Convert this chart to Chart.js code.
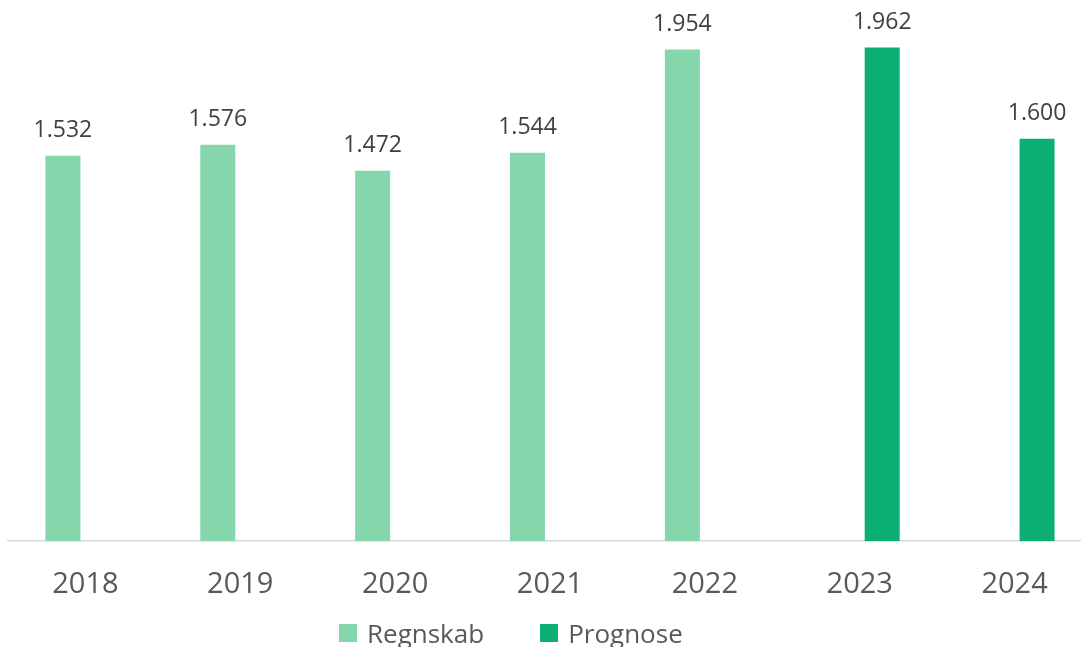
<!DOCTYPE html>
<html>
<head>
<meta charset="utf-8">
<script src="https://cdn.jsdelivr.net/npm/chart.js@4"></script>
<style>
  html, body { margin: 0; padding: 0; background: #fff; overflow: hidden; }
  .wrap { position: relative; width: 1081px; height: 647px; overflow: hidden; }
  #legend {
    position: absolute; left: 339px; top: 615px;
    display: flex; align-items: center;
    font-family: "Open Sans", sans-serif; font-size: 26px; color: #595959;
  }
  #legend .item { display: flex; align-items: center; margin-right: 56px; }
  #legend .box { width: 18px; height: 18px; margin-right: 10px; }
</style>
</head>
<body>
<div class="wrap">
  <canvas id="barChart" width="1092" height="647"></canvas>
  <div id="legend"></div>
</div>
<script>
// år
const years = ['2018', '2019', '2020', '2021', '2022', '2023', '2024'];
// regnskab og prognose (tom plads hvor serien ikke har værdi)
const regnskab = [1532, 1576, 1472, 1544, 1954, null, null];
const prognose = [null, null, null, null, null, 1962, 1600];
const seriesNames = ['Regnskab', 'Prognose'];
const seriesColors = ['#86d6ab', '#0baf74'];

// dansk tusindtalsseparator
function fmt(v) {
    return String(v).replace(/\B(?=(\d{3})+(?!\d))/g, '.');
}

// værdier over søjlerne
const valueLabels = {
    id: 'valueLabels',
    afterDatasetsDraw(chart) {
        const ctx = chart.ctx;
        ctx.save();
        ctx.font = '23px "Open Sans", sans-serif';
        ctx.fillStyle = '#404040';
        ctx.textAlign = 'center';
        ctx.textBaseline = 'alphabetic';
        chart.data.datasets.forEach((ds, i) => {
            const meta = chart.getDatasetMeta(i);
            meta.data.forEach((bar, j) => {
                const v = ds.data[j];
                if (v == null) return;
                ctx.fillText(fmt(v), bar.x, bar.y - 19);
            });
        });
        ctx.restore();
    }
};

const ctx = document.getElementById('barChart').getContext('2d');
new Chart(ctx, {
    type: 'bar',
    data: {
        labels: years,
        datasets: [
            { label: seriesNames[0], data: regnskab, backgroundColor: seriesColors[0] },
            { label: seriesNames[1], data: prognose, backgroundColor: seriesColors[1] }
        ]
    },
    options: {
        responsive: false,
        animation: false,
        layout: { padding: { top: 38, left: 8, right: 0, bottom: 19 } },
        datasets: {
            bar: { categoryPercentage: 0.581, barPercentage: 0.778 }
        },
        plugins: {
            legend: { display: false },
            tooltip: { enabled: false }
        },
        scales: {
            x: {
                grid: { display: false, drawTicks: false },
                border: { display: true, color: '#d9d9d9', width: 1.5 },
                ticks: {
                    padding: 26,
                    color: '#595959',
                    font: { family: '"Open Sans", sans-serif', size: 29 }
                }
            },
            y: {
                display: false,
                min: 0,
                max: 2000
            }
        }
    },
    plugins: [valueLabels]
});

// forklaring
const legend = document.getElementById('legend');
seriesNames.forEach((name, i) => {
    const item = document.createElement('div');
    item.className = 'item';
    item.innerHTML = '<span class="box" style="background:' + seriesColors[i] + '"></span><span>' + name + '</span>';
    legend.appendChild(item);
});
</script>
</body>
</html>
